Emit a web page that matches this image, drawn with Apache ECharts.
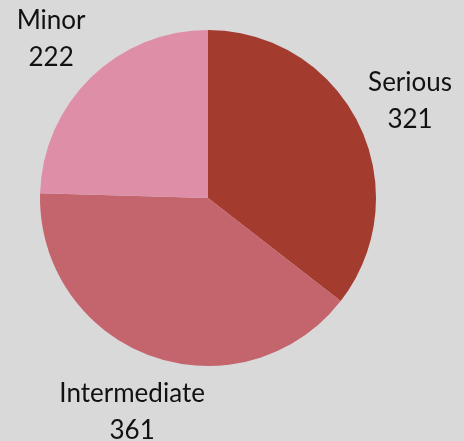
<!DOCTYPE html>
<html><head><meta charset="utf-8">
<script src="https://cdn.jsdelivr.net/npm/echarts@6/dist/echarts.min.js"></script>
<style>html,body{margin:0;padding:0;background:#d9d9d9;}#c{width:464px;height:441px;}</style>
</head><body><div id="c"></div>
<script>
const categories = ['Serious', 'Intermediate', 'Minor'];
const values = [321, 361, 222];
const colors = ['#A33B2F', '#C4646C', '#DE8EA7'];

const data = categories.map((c, i) => ({ name: c, value: values[i], itemStyle: { color: colors[i] } }));
const chart = echarts.init(document.getElementById('c'));
chart.setOption({
  backgroundColor: '#d9d9d9',
  animation: false,
  series: [
    {
      type: 'pie',
      center: [208, 198],
      radius: [0, 168],
      startAngle: 90,
      clockwise: true,
      data: data,
      label: { show: false },
      labelLine: { show: false },
      silent: true
    },
    {
      type: 'pie',
      center: [208, 198],
      radius: [212, 232],
      startAngle: 90,
      clockwise: true,
      silent: true,
      data: categories.map((c, i) => ({ name: c, value: values[i] })),
      itemStyle: { color: 'rgba(0,0,0,0)' },
      label: {
        show: true,
        position: 'inside',
        formatter: '{b}\n{c}',
        fontFamily: 'Lato',
        fontSize: 26,
        lineHeight: 37,
        offset: [0, 2],
        color: '#111',
        align: 'center'
      },
      labelLine: { show: false }
    }
  ]
});
</script></body></html>
